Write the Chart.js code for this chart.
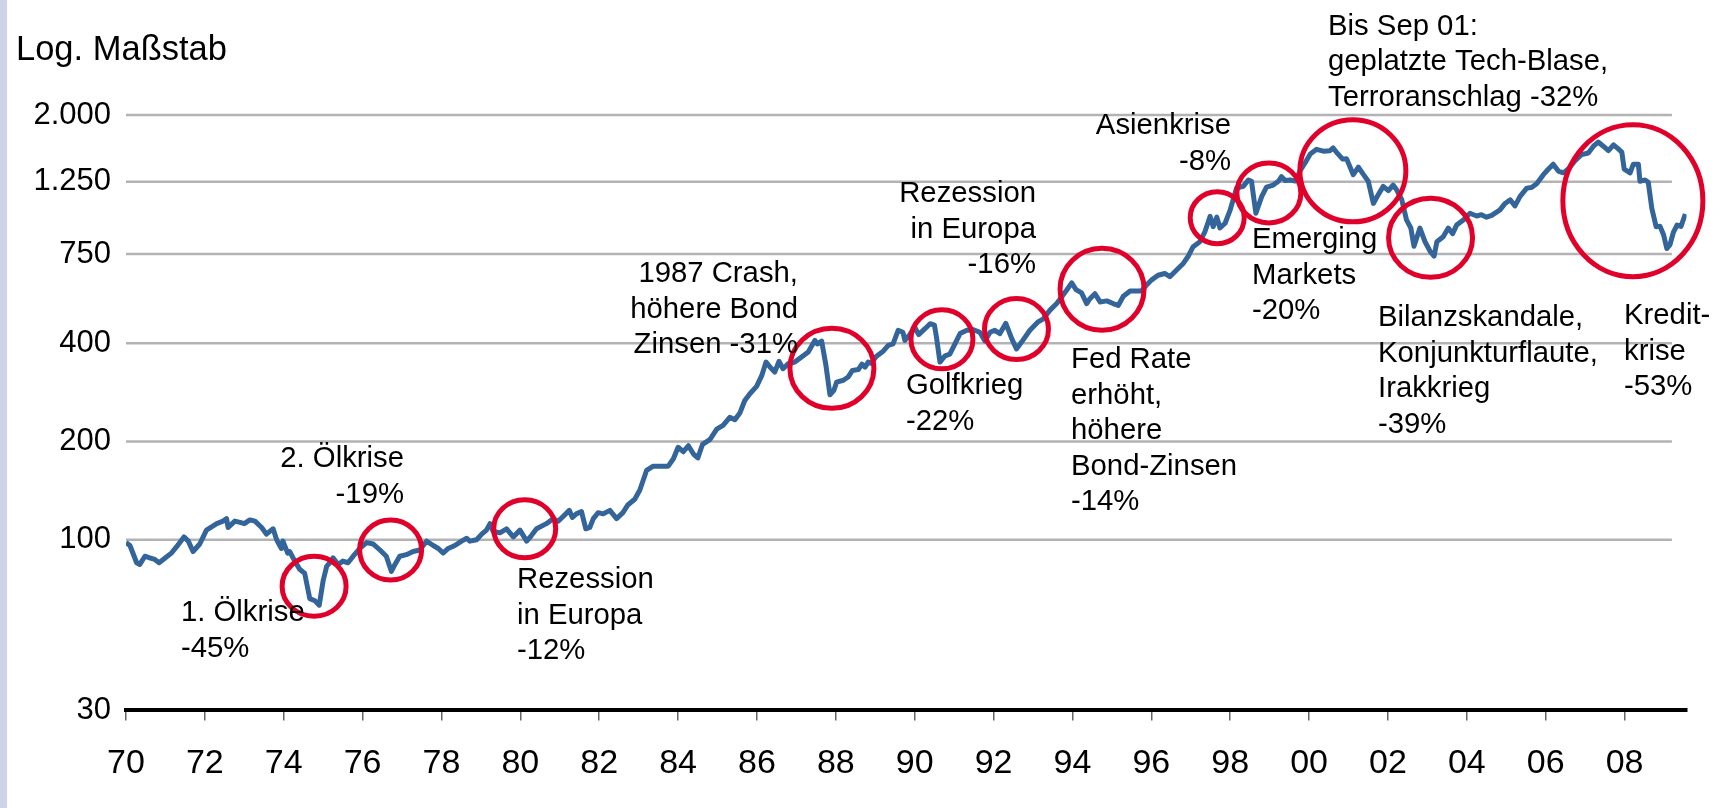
<!DOCTYPE html>
<html>
<head>
<meta charset="utf-8">
<script src="https://cdn.jsdelivr.net/npm/chart.js@4/dist/chart.umd.min.js"></script>
<style>
  html, body { margin: 0; padding: 0; background: #fff; }
  canvas { display: block; }
</style>
</head>
<body>
<canvas id="chart" width="1721" height="808"></canvas>
<script>
// monthly-ish readings of the index (1970 = 100), log scale
const years = [
 1970.00,1970.10,1970.27,1970.35,1970.48,1970.60,1970.73,1970.84,1971.00,1971.15,1971.28,1971.47,1971.58,1971.70,1971.87,
 1972.04,1972.30,1972.46,1972.55,1972.59,1972.76,1972.89,1973.00,1973.14,1973.27,1973.44,1973.56,1973.73,1973.82,1973.94,
 1973.98,1974.10,1974.15,1974.28,1974.41,1974.53,1974.66,1974.79,1974.90,1975.00,1975.09,1975.17,1975.25,1975.38,1975.50,
 1975.63,1975.76,1975.93,1976.10,1976.27,1976.44,1976.60,1976.73,1976.82,1976.94,1977.11,1977.28,1977.45,1977.62,1977.79,
 1977.92,1978.04,1978.17,1978.34,1978.51,1978.64,1978.72,1978.89,1979.02,1979.14,1979.23,1979.31,1979.48,1979.65,1979.82,
 1979.99,1980.16,1980.28,1980.41,1980.66,1980.83,1980.96,1981.09,1981.24,1981.32,1981.42,1981.55,1981.66,1981.76,1981.85,
 1981.97,1982.10,1982.27,1982.44,1982.60,1982.73,1982.90,1983.03,1983.20,1983.37,1983.58,1983.75,1983.88,1984.00,1984.13,
 1984.26,1984.39,1984.50,1984.62,1984.81,1984.98,1985.14,1985.31,1985.44,1985.57,1985.69,1985.82,1985.99,1986.12,1986.23,
 1986.33,1986.45,1986.56,1986.66,1986.79,1986.96,1987.13,1987.30,1987.47,1987.53,1987.64,1987.75,1987.85,1987.95,1988.02,
 1988.19,1988.31,1988.42,1988.57,1988.66,1988.74,1988.82,1988.90,1989.03,1989.20,1989.33,1989.45,1989.58,1989.70,1989.75,
 1989.88,1990.00,1990.10,1990.26,1990.39,1990.50,1990.55,1990.64,1990.77,1990.89,1991.02,1991.15,1991.32,1991.48,1991.65,
 1991.78,1991.91,1992.03,1992.16,1992.31,1992.46,1992.58,1992.71,1992.92,1993.13,1993.26,1993.43,1993.60,1993.73,1993.85,
 1993.98,1994.09,1994.23,1994.36,1994.43,1994.57,1994.70,1994.87,1995.03,1995.16,1995.29,1995.46,1995.63,1995.75,1995.88,
 1996.00,1996.17,1996.34,1996.47,1996.64,1996.81,1996.93,1997.06,1997.23,1997.36,1997.49,1997.57,1997.66,1997.74,1997.87,
 1998.00,1998.16,1998.33,1998.46,1998.54,1998.65,1998.80,1998.92,1999.09,1999.22,1999.30,1999.39,1999.52,1999.65,1999.77,
 1999.90,2000.03,2000.19,2000.36,2000.53,2000.61,2000.72,2000.85,2000.95,2001.12,2001.25,2001.38,2001.50,2001.63,2001.73,
 2001.88,2002.01,2002.13,2002.22,2002.35,2002.47,2002.58,2002.66,2002.81,2002.94,2003.07,2003.17,2003.24,2003.40,2003.53,
 2003.64,2003.74,2003.91,2004.08,2004.25,2004.37,2004.50,2004.63,2004.84,2004.97,2005.10,2005.22,2005.35,2005.52,2005.64,
 2005.77,2005.94,2006.07,2006.19,2006.32,2006.45,2006.57,2006.74,2006.91,2007.08,2007.21,2007.33,2007.46,2007.59,2007.72,
 2007.84,2007.93,2007.99,2008.14,2008.22,2008.35,2008.39,2008.52,2008.60,2008.69,2008.80,2008.90,2008.99,2009.07,2009.15,
 2009.24,2009.33,2009.43,2009.54
];
const values = [
 98,96,85,84,89,88,87,85,88,91,95,102,99,92,97,
 107,112,114,116,109,114,113,112,115,114,109,104,108,100,94,
 99,91,92,86,81,79,66,65,63,75,83,85,88,84,86,
 85,89,94,98,97,93,89,80,84,89,90,92,93,99,96,
 94,91,94,96,99,101,99,100,104,107,112,106,105,108,102,
 107,99,103,108,112,116,114,118,123,117,120,122,108,109,116,
 121,120,123,116,121,128,133,142,163,168,168,168,177,192,186,
 194,183,178,196,203,218,224,237,233,245,267,280,295,318,350,
 338,326,352,334,346,350,363,376,408,398,406,341,278,287,304,
 308,315,330,332,345,338,350,347,365,378,394,398,438,432,408,
 426,448,425,443,459,454,418,350,366,370,398,428,438,440,432,
 406,432,438,428,460,413,384,403,438,465,475,505,529,555,581,
 612,584,570,529,545,567,535,539,529,522,557,578,578,578,603,
 624,646,654,639,670,702,737,790,818,879,978,910,973,901,932,
 1025,1194,1209,1265,1253,1000,1127,1203,1220,1253,1295,1260,1265,1255,1347,
 1428,1520,1570,1550,1555,1585,1525,1465,1470,1313,1385,1313,1253,1072,1127,
 1209,1173,1220,1180,1100,954,901,792,901,818,764,739,818,847,901,
 866,920,954,1000,981,990,973,985,1024,1072,1100,1053,1127,1194,1200,
 1232,1313,1366,1413,1347,1330,1366,1446,1513,1530,1605,1653,1605,1555,1620,
 1575,1540,1366,1330,1413,1413,1253,1265,1245,1036,910,912,858,780,800,
 876,920,912,995
];

const xTicks = [1970,1972,1974,1976,1978,1980,1982,1984,1986,1988,1990,1992,1994,1996,1998,2000,2002,2004,2006,2008];
const xTickLabels = ['70','72','74','76','78','80','82','84','86','88','90','92','94','96','98','00','02','04','06','08'];
const yTicks = [30,100,200,400,750,1250,2000];
const yTickLabels = ['30','100','200','400','750','1.250','2.000'];

// crisis circles: centre in data units (year, index), radii in px
const circles = [
  {x: 1974.77, y: 72,   rx: 32, ry: 30},
  {x: 1976.71, y: 93,   rx: 31, ry: 30},
  {x: 1980.11, y: 108,  rx: 31, ry: 29},
  {x: 1987.90, y: 335,  rx: 42, ry: 40},
  {x: 1990.69, y: 411,  rx: 31, ry: 29.5},
  {x: 1992.58, y: 442,  rx: 32, ry: 30.5},
  {x: 1994.75, y: 585,  rx: 42, ry: 41},
  {x: 1997.67, y: 969,  rx: 27, ry: 26},
  {x: 1998.98, y: 1154, rx: 32, ry: 30},
  {x: 2001.11, y: 1349, rx: 53, ry: 51},
  {x: 2003.08, y: 841,  rx: 42, ry: 39.5},
  {x: 2008.21, y: 1092, rx: 70, ry: 76}
];

// text boxes, canvas px (first baseline)
const notes = [
  {x: 181,  y: 621, align: 'left',  lines: ['1. Ölkrise', '-45%']},
  {x: 404,  y: 467, align: 'right', lines: ['2. Ölkrise', '-19%']},
  {x: 517,  y: 588, align: 'left',  lines: ['Rezession', 'in Europa', '-12%']},
  {x: 798,  y: 282, align: 'right', lines: ['1987 Crash,', 'höhere Bond', 'Zinsen -31%']},
  {x: 1036, y: 202, align: 'right', lines: ['Rezession', 'in Europa', '-16%']},
  {x: 906,  y: 394, align: 'left',  lines: ['Golfkrieg', '-22%']},
  {x: 1071, y: 368, align: 'left',  lines: ['Fed Rate', 'erhöht,', 'höhere', 'Bond-Zinsen', '-14%']},
  {x: 1231, y: 134, align: 'right', lines: ['Asienkrise', '-8%']},
  {x: 1328, y: 34.5,align: 'left',  lines: ['Bis Sep 01:', 'geplatzte Tech-Blase,', 'Terroranschlag -32%']},
  {x: 1252, y: 248, align: 'left',  lines: ['Emerging', 'Markets', '-20%']},
  {x: 1378, y: 326, align: 'left',  lines: ['Bilanzskandale,', 'Konjunkturflaute,', 'Irakkrieg', '-39%']},
  {x: 1624, y: 324, align: 'left',  lines: ['Kredit-', 'krise', '-53%']}
];

const FONT = '"Liberation Sans", Arial, sans-serif';

const decor = {
  id: 'decor',
  beforeDraw(chart) {
    const c = chart.ctx;
    c.save();
    c.fillStyle = '#fff';
    c.fillRect(0, 0, chart.width, chart.height);
    c.fillStyle = '#cdd4e7';
    c.fillRect(0, 0, 7, chart.height);
    c.restore();
  },
  beforeDatasetsDraw(chart) {
    const c = chart.ctx, ys = chart.scales.y, xs = chart.scales.x;
    const x0 = chart.chartArea.left, x1 = xs.getPixelForValue(2009.2);
    c.save();
    c.strokeStyle = '#b3b3b3';
    c.lineWidth = 2.5;
    yTicks.slice(1).forEach(v => {
      const py = ys.getPixelForValue(v);
      c.beginPath(); c.moveTo(x0, py); c.lineTo(x1, py); c.stroke();
    });
    c.restore();
  },
  afterDraw(chart) {
    const c = chart.ctx, xs = chart.scales.x, ys = chart.scales.y;
    c.save();
    c.strokeStyle = '#e0002a';
    c.lineWidth = 5;
    circles.forEach(o => {
      c.beginPath();
      c.ellipse(xs.getPixelForValue(o.x), ys.getPixelForValue(o.y), o.rx, o.ry, 0, 0, Math.PI * 2);
      c.stroke();
    });
    c.fillStyle = '#000';
    c.textBaseline = 'alphabetic';
    c.font = '29.3px ' + FONT;
    notes.forEach(n => {
      c.textAlign = n.align;
      n.lines.forEach((t, i) => c.fillText(t, n.x, n.y + i * 35.5));
    });
    c.textAlign = 'left';
    c.font = '34.5px ' + FONT;
    c.fillText('Log. Maßstab', 16, 60);
    c.restore();
  }
};

new Chart(document.getElementById('chart'), {
  type: 'line',
  data: {
    datasets: [{
      data: years.map((x, i) => ({x: x, y: values[i]})),
      borderColor: '#33659b',
      borderWidth: 5,
      borderJoinStyle: 'round',
      pointRadius: 0,
      tension: 0,
      fill: false
    }]
  },
  options: {
    responsive: false,
    animation: false,
    devicePixelRatio: 1,
    layout: { padding: { left: 26, right: 34.5, top: 115, bottom: 0.8 } },
    plugins: { legend: { display: false }, tooltip: { enabled: false } },
    scales: {
      x: {
        type: 'linear',
        min: 1970,
        max: 2009.57,
        afterBuildTicks: s => { s.ticks = xTicks.map(v => ({value: v})); },
        ticks: {
          callback: (v, i) => xTickLabels[i],
          autoSkip: false,
          maxRotation: 0,
          padding: 23,
          color: '#000',
          font: { family: FONT, size: 34 }
        },
        grid: { drawOnChartArea: false, drawTicks: true, tickLength: 10, color: '#666', lineWidth: 1.5 },
        border: { display: true, color: '#000', width: 4 }
      },
      y: {
        type: 'logarithmic',
        min: 30,
        max: 2000,
        afterBuildTicks: s => { s.ticks = yTicks.map(v => ({value: v})); },
        afterFit: s => { s.width = 100; },
        ticks: {
          callback: (v, i) => yTickLabels[i],
          autoSkip: false,
          padding: 15,
          color: '#000',
          font: { family: FONT, size: 31 }
        },
        grid: { display: false, drawTicks: false },
        border: { display: false }
      }
    }
  },
  plugins: [decor]
});
</script>
</body>
</html>
